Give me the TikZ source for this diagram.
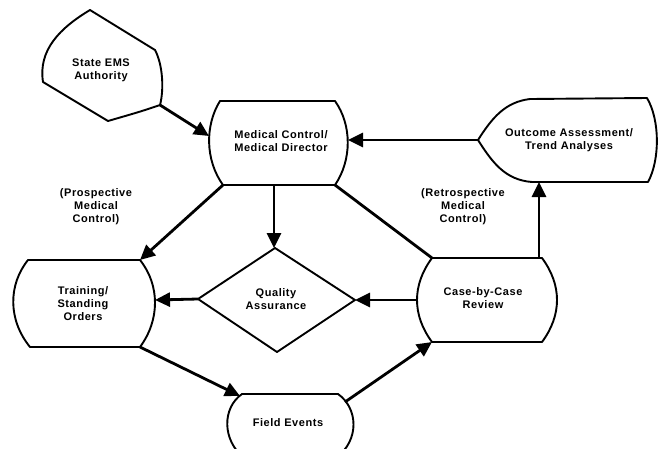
\documentclass[tikz,border=0pt]{standalone}
\usepackage{fontspec}
\setmainfont{Liberation Sans}[LetterSpace=5]
\usetikzlibrary{arrows.meta}
\newcommand{\lblfont}{\fontsize{11}{13}\selectfont\bfseries}
\begin{document}
\begin{tikzpicture}[
        x=1pt, y=-1pt, % one unit = one pixel, y downwards
        lbl/.style = {align=center, font=\lblfont, inner sep=0pt},
        outline/.style = {draw, line width=1.9pt, line join=round},
        link/.style = {draw, line width=2.8pt},
        arr/.style = {link, -{Triangle[length=15pt, width=14pt]}},
    ]
    \useasboundingbox (0,0) rectangle (658,448);

    % Texts
    \node[lbl] (state) at (101,70) {State EMS\\Authority};
    \node[lbl] (med) at (281,141) {Medical Control/\\Medical Director};
    \node[lbl] (out) at (569,140) {Outcome Assessment/\\Trend Analyses};
    \node[lbl] (train) at (83,304) {Training/\\Standing\\Orders};
    \node[lbl] (qa) at (276,299) {Quality\\Assurance};
    \node[lbl] (case) at (483,298) {Case-by-Case\\Review};
    \node[lbl] (field) at (288,423) {Field Events};
    \node[lbl] (pro) at (96,207) {(Prospective\\Medical\\Control)};
    \node[lbl] (retro) at (463,207) {(Retrospective\\Medical\\Control)};

    % Outlines
    \draw[outline] (90,10) -- (155,50) .. controls (163,65) and (164,90) .. (160,105)
        .. controls (140,112) and (125,116) .. (108,121) -- (43,82)
        .. controls (38,50) and (60,28) .. (90,10) -- cycle;
    \draw[outline] (220,101) -- (335,101) .. controls (352,125) and (352,160) .. (335,185)
        -- (223,185) .. controls (205,160) and (205,125) .. (220,101) -- cycle;
    \draw[outline] (478,140) .. controls (492,118) and (505,102) .. (530,99) -- (647,98)
        .. controls (660,120) and (660,160) .. (648,182) -- (532,182)
        .. controls (505,180) and (492,162) .. (478,140) -- cycle;
    \draw[outline] (28,260) -- (140,260) .. controls (160,285) and (160,320) .. (140,347)
        -- (30,347) .. controls (8,320) and (8,285) .. (28,260) -- cycle;
    \draw[outline] (275,248) -- (355,300) -- (277,352) -- (198,299) -- cycle;
    \draw[outline] (432,258) -- (542,258) .. controls (562,285) and (562,315) .. (542,342)
        -- (432,342) .. controls (412,315) and (412,285) .. (432,258) -- cycle;
    \draw[outline] (242,394) -- (338,394) .. controls (358,408) and (360,440) .. (336,458)
        -- (244,458) .. controls (222,440) and (222,408) .. (242,394) -- cycle;

    % Connector ends
    \coordinate (state-se) at (160,105);
    \coordinate (med-w) at (209,136);
    \coordinate (med-e) at (348,140);
    \coordinate (med-s) at (274,185);
    \coordinate (med-sw) at (223,185);
    \coordinate (med-se) at (335,185);
    \coordinate (out-w) at (478,140);
    \coordinate (out-s) at (539,182);
    \coordinate (train-ne) at (140,260);
    \coordinate (train-e) at (155,300);
    \coordinate (train-se) at (140,347);
    \coordinate (qa-n) at (274,248);
    \coordinate (qa-w) at (198,299);
    \coordinate (qa-e) at (355,300);
    \coordinate (case-nw) at (432,258);
    \coordinate (case-n) at (539,258);
    \coordinate (case-w) at (417,300);
    \coordinate (case-sw) at (432,342);
    \coordinate (field-nw) at (240,396);
    \coordinate (field-ne) at (345,402);

    % Connectors
    \draw[arr] (state-se) -- (med-w);
    \draw[arr] (out-w) -- (med-e);
    \draw[arr] (med-s) -- (qa-n);
    \draw[arr] (med-sw) -- (train-ne);
    \draw[link] (med-se) -- (case-nw);
    \draw[arr] (case-n) -- (out-s);
    \draw[arr] (case-w) -- (qa-e);
    \draw[arr] (qa-w) -- (train-e);
    \draw[arr] (train-se) -- (field-nw);
    \draw[arr] (field-ne) -- (case-sw);
\end{tikzpicture}
\end{document}
